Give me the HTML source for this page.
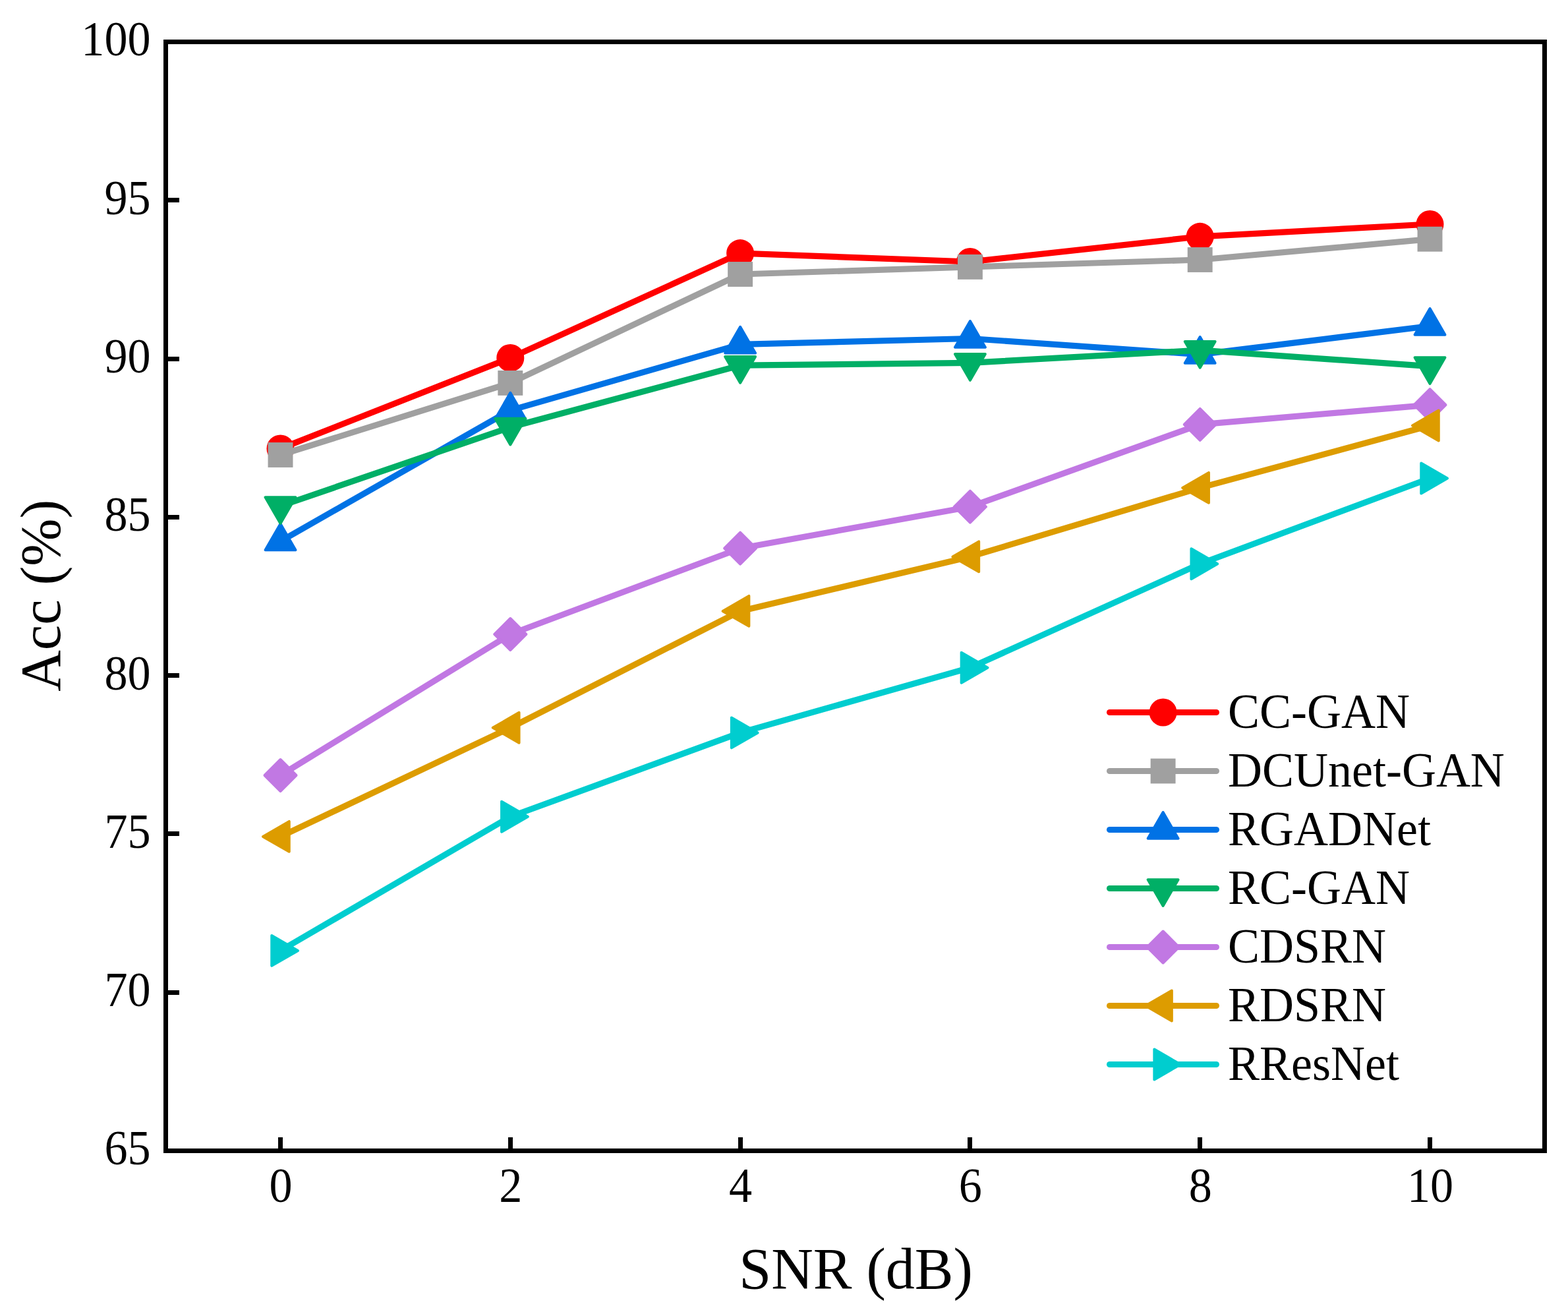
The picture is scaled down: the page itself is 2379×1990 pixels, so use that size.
<!DOCTYPE html>
<html><head><meta charset="utf-8"><title>Acc vs SNR</title>
<style>
html,body{margin:0;padding:0;background:#fff;}
svg{display:block;}
text{font-family:"Liberation Serif","Times New Roman",serif;fill:#000;}
</style></head><body>
<svg width="2379" height="1990" viewBox="0 0 2379 1990">
<rect width="2379" height="1990" fill="#fff"/>
<g><polyline points="425.50,680.40 774.30,542.90 1123.10,384.10 1471.90,397.00 1820.70,358.80 2169.50,340.00" fill="none" stroke="#ff0000" stroke-width="9.2" stroke-linejoin="round" stroke-linecap="round"/>
<circle cx="425.50" cy="680.40" r="21" fill="#ff0000"/>
<circle cx="774.30" cy="542.90" r="21" fill="#ff0000"/>
<circle cx="1123.10" cy="384.10" r="21" fill="#ff0000"/>
<circle cx="1471.90" cy="397.00" r="21" fill="#ff0000"/>
<circle cx="1820.70" cy="358.80" r="21" fill="#ff0000"/>
<circle cx="2169.50" cy="340.00" r="21" fill="#ff0000"/>
</g>
<g><polyline points="425.50,690.00 774.30,580.90 1123.10,416.00 1471.90,404.90 1820.70,394.00 2169.50,362.70" fill="none" stroke="#a0a0a0" stroke-width="9.2" stroke-linejoin="round" stroke-linecap="round"/>
<rect x="406.55" y="671.05" width="37.90" height="37.90" fill="#a0a0a0"/>
<rect x="755.35" y="561.95" width="37.90" height="37.90" fill="#a0a0a0"/>
<rect x="1104.15" y="397.05" width="37.90" height="37.90" fill="#a0a0a0"/>
<rect x="1452.95" y="385.95" width="37.90" height="37.90" fill="#a0a0a0"/>
<rect x="1801.75" y="375.05" width="37.90" height="37.90" fill="#a0a0a0"/>
<rect x="2150.55" y="343.75" width="37.90" height="37.90" fill="#a0a0a0"/>
</g>
<g><polyline points="425.50,820.90 774.30,622.30 1123.10,522.30 1471.90,513.50 1820.70,537.60 2169.50,494.50" fill="none" stroke="#0072e5" stroke-width="9.2" stroke-linejoin="round" stroke-linecap="round"/>
<polygon points="425.50,794.40 448.45,834.15 402.55,834.15" fill="#0072e5" stroke="#0072e5" stroke-width="4" stroke-linejoin="round"/>
<polygon points="774.30,595.80 797.25,635.55 751.35,635.55" fill="#0072e5" stroke="#0072e5" stroke-width="4" stroke-linejoin="round"/>
<polygon points="1123.10,495.80 1146.05,535.55 1100.15,535.55" fill="#0072e5" stroke="#0072e5" stroke-width="4" stroke-linejoin="round"/>
<polygon points="1471.90,487.00 1494.85,526.75 1448.95,526.75" fill="#0072e5" stroke="#0072e5" stroke-width="4" stroke-linejoin="round"/>
<polygon points="1820.70,511.10 1843.65,550.85 1797.75,550.85" fill="#0072e5" stroke="#0072e5" stroke-width="4" stroke-linejoin="round"/>
<polygon points="2169.50,468.00 2192.45,507.75 2146.55,507.75" fill="#0072e5" stroke="#0072e5" stroke-width="4" stroke-linejoin="round"/>
</g>
<g><polyline points="425.50,767.50 774.30,648.00 1123.10,554.20 1471.90,550.30 1820.70,531.20 2169.50,555.60" fill="none" stroke="#00af66" stroke-width="9.2" stroke-linejoin="round" stroke-linecap="round"/>
<polygon points="425.50,794.00 402.55,754.25 448.45,754.25" fill="#00af66" stroke="#00af66" stroke-width="4" stroke-linejoin="round"/>
<polygon points="774.30,674.50 751.35,634.75 797.25,634.75" fill="#00af66" stroke="#00af66" stroke-width="4" stroke-linejoin="round"/>
<polygon points="1123.10,580.70 1100.15,540.95 1146.05,540.95" fill="#00af66" stroke="#00af66" stroke-width="4" stroke-linejoin="round"/>
<polygon points="1471.90,576.80 1448.95,537.05 1494.85,537.05" fill="#00af66" stroke="#00af66" stroke-width="4" stroke-linejoin="round"/>
<polygon points="1820.70,557.70 1797.75,517.95 1843.65,517.95" fill="#00af66" stroke="#00af66" stroke-width="4" stroke-linejoin="round"/>
<polygon points="2169.50,582.10 2146.55,542.35 2192.45,542.35" fill="#00af66" stroke="#00af66" stroke-width="4" stroke-linejoin="round"/>
</g>
<g><polyline points="425.50,1176.00 774.30,962.00 1123.10,831.70 1471.90,768.70 1820.70,643.80 2169.50,614.20" fill="none" stroke="#c178e3" stroke-width="9.2" stroke-linejoin="round" stroke-linecap="round"/>
<polygon points="425.50,1152.00 449.50,1176.00 425.50,1200.00 401.50,1176.00" fill="#c178e3" stroke="#c178e3" stroke-width="4" stroke-linejoin="round"/>
<polygon points="774.30,938.00 798.30,962.00 774.30,986.00 750.30,962.00" fill="#c178e3" stroke="#c178e3" stroke-width="4" stroke-linejoin="round"/>
<polygon points="1123.10,807.70 1147.10,831.70 1123.10,855.70 1099.10,831.70" fill="#c178e3" stroke="#c178e3" stroke-width="4" stroke-linejoin="round"/>
<polygon points="1471.90,744.70 1495.90,768.70 1471.90,792.70 1447.90,768.70" fill="#c178e3" stroke="#c178e3" stroke-width="4" stroke-linejoin="round"/>
<polygon points="1820.70,619.80 1844.70,643.80 1820.70,667.80 1796.70,643.80" fill="#c178e3" stroke="#c178e3" stroke-width="4" stroke-linejoin="round"/>
<polygon points="2169.50,590.20 2193.50,614.20 2169.50,638.20 2145.50,614.20" fill="#c178e3" stroke="#c178e3" stroke-width="4" stroke-linejoin="round"/>
</g>
<g><polyline points="425.50,1268.90 774.30,1103.80 1123.10,926.90 1471.90,844.40 1820.70,739.90 2169.50,645.50" fill="none" stroke="#dd9c00" stroke-width="9.2" stroke-linejoin="round" stroke-linecap="round"/>
<polygon points="399.00,1268.90 438.75,1245.95 438.75,1291.85" fill="#dd9c00" stroke="#dd9c00" stroke-width="4" stroke-linejoin="round"/>
<polygon points="747.80,1103.80 787.55,1080.85 787.55,1126.75" fill="#dd9c00" stroke="#dd9c00" stroke-width="4" stroke-linejoin="round"/>
<polygon points="1096.60,926.90 1136.35,903.95 1136.35,949.85" fill="#dd9c00" stroke="#dd9c00" stroke-width="4" stroke-linejoin="round"/>
<polygon points="1445.40,844.40 1485.15,821.45 1485.15,867.35" fill="#dd9c00" stroke="#dd9c00" stroke-width="4" stroke-linejoin="round"/>
<polygon points="1794.20,739.90 1833.95,716.95 1833.95,762.85" fill="#dd9c00" stroke="#dd9c00" stroke-width="4" stroke-linejoin="round"/>
<polygon points="2143.00,645.50 2182.75,622.55 2182.75,668.45" fill="#dd9c00" stroke="#dd9c00" stroke-width="4" stroke-linejoin="round"/>
</g>
<g><polyline points="425.50,1441.90 774.30,1238.70 1123.10,1111.40 1471.90,1012.80 1820.70,855.30 2169.50,725.50" fill="none" stroke="#00cdcf" stroke-width="9.2" stroke-linejoin="round" stroke-linecap="round"/>
<polygon points="452.00,1441.90 412.25,1464.85 412.25,1418.95" fill="#00cdcf" stroke="#00cdcf" stroke-width="4" stroke-linejoin="round"/>
<polygon points="800.80,1238.70 761.05,1261.65 761.05,1215.75" fill="#00cdcf" stroke="#00cdcf" stroke-width="4" stroke-linejoin="round"/>
<polygon points="1149.60,1111.40 1109.85,1134.35 1109.85,1088.45" fill="#00cdcf" stroke="#00cdcf" stroke-width="4" stroke-linejoin="round"/>
<polygon points="1498.40,1012.80 1458.65,1035.75 1458.65,989.85" fill="#00cdcf" stroke="#00cdcf" stroke-width="4" stroke-linejoin="round"/>
<polygon points="1847.20,855.30 1807.45,878.25 1807.45,832.35" fill="#00cdcf" stroke="#00cdcf" stroke-width="4" stroke-linejoin="round"/>
<polygon points="2196.00,725.50 2156.25,748.45 2156.25,702.55" fill="#00cdcf" stroke="#00cdcf" stroke-width="4" stroke-linejoin="round"/>
</g>
<rect x="251.5" y="63.5" width="2092" height="1682" fill="none" stroke="#000" stroke-width="7"/>
<text transform="translate(228.6,84.40) scale(0.975,1.04)" font-size="72" text-anchor="end">100</text>
<rect x="251" y="300" width="21" height="7" fill="#000"/>
<text transform="translate(228.6,324.69) scale(0.975,1.04)" font-size="72" text-anchor="end">95</text>
<rect x="251" y="541" width="21" height="7" fill="#000"/>
<text transform="translate(228.6,564.97) scale(0.975,1.04)" font-size="72" text-anchor="end">90</text>
<rect x="251" y="781" width="21" height="7" fill="#000"/>
<text transform="translate(228.6,805.25) scale(0.975,1.04)" font-size="72" text-anchor="end">85</text>
<rect x="251" y="1021" width="21" height="7" fill="#000"/>
<text transform="translate(228.6,1045.54) scale(0.975,1.04)" font-size="72" text-anchor="end">80</text>
<rect x="251" y="1261" width="21" height="7" fill="#000"/>
<text transform="translate(228.6,1285.83) scale(0.975,1.04)" font-size="72" text-anchor="end">75</text>
<rect x="251" y="1502" width="21" height="7" fill="#000"/>
<text transform="translate(228.6,1526.11) scale(0.975,1.04)" font-size="72" text-anchor="end">70</text>
<text transform="translate(228.6,1766.40) scale(0.975,1.04)" font-size="72" text-anchor="end">65</text>
<rect x="422" y="1725" width="7" height="21" fill="#000"/>
<text transform="translate(426.00,1823.3) scale(0.975,1.04)" font-size="72" text-anchor="middle">0</text>
<rect x="771" y="1725" width="7" height="21" fill="#000"/>
<text transform="translate(774.80,1823.3) scale(0.975,1.04)" font-size="72" text-anchor="middle">2</text>
<rect x="1120" y="1725" width="7" height="21" fill="#000"/>
<text transform="translate(1123.60,1823.3) scale(0.975,1.04)" font-size="72" text-anchor="middle">4</text>
<rect x="1468" y="1725" width="7" height="21" fill="#000"/>
<text transform="translate(1472.40,1823.3) scale(0.975,1.04)" font-size="72" text-anchor="middle">6</text>
<rect x="1817" y="1725" width="7" height="21" fill="#000"/>
<text transform="translate(1821.20,1823.3) scale(0.975,1.04)" font-size="72" text-anchor="middle">8</text>
<rect x="2166" y="1725" width="7" height="21" fill="#000"/>
<text transform="translate(2170.00,1823.3) scale(0.975,1.04)" font-size="72" text-anchor="middle">10</text>
<text x="1298.5" y="1954.3" font-size="88" text-anchor="middle">SNR (dB)</text>
<text transform="translate(90.5,903.2) rotate(-90)" x="0" y="0" font-size="86.7" text-anchor="middle">Acc (%)</text>
<g><line x1="1683.6" y1="1080.50" x2="1845.4" y2="1080.50" stroke="#ff0000" stroke-width="9.2" stroke-linecap="round"/>
<circle cx="1764.60" cy="1080.50" r="21" fill="#ff0000"/>
<text transform="translate(1863,1104.00) scale(1,1.025)" font-size="72">CC-GAN</text></g>
<g><line x1="1683.6" y1="1169.50" x2="1845.4" y2="1169.50" stroke="#a0a0a0" stroke-width="9.2" stroke-linecap="round"/>
<rect x="1745.65" y="1150.55" width="37.90" height="37.90" fill="#a0a0a0"/>
<text transform="translate(1863,1193.00) scale(1,1.025)" font-size="72">DCUnet-GAN</text></g>
<g><line x1="1683.6" y1="1258.50" x2="1845.4" y2="1258.50" stroke="#0072e5" stroke-width="9.2" stroke-linecap="round"/>
<polygon points="1764.60,1232.00 1787.55,1271.75 1741.65,1271.75" fill="#0072e5" stroke="#0072e5" stroke-width="4" stroke-linejoin="round"/>
<text transform="translate(1863,1282.00) scale(1,1.025)" font-size="72">RGADNet</text></g>
<g><line x1="1683.6" y1="1347.50" x2="1845.4" y2="1347.50" stroke="#00af66" stroke-width="9.2" stroke-linecap="round"/>
<polygon points="1764.60,1374.00 1741.65,1334.25 1787.55,1334.25" fill="#00af66" stroke="#00af66" stroke-width="4" stroke-linejoin="round"/>
<text transform="translate(1863,1371.00) scale(1,1.025)" font-size="72">RC-GAN</text></g>
<g><line x1="1683.6" y1="1436.50" x2="1845.4" y2="1436.50" stroke="#c178e3" stroke-width="9.2" stroke-linecap="round"/>
<polygon points="1764.60,1412.50 1788.60,1436.50 1764.60,1460.50 1740.60,1436.50" fill="#c178e3" stroke="#c178e3" stroke-width="4" stroke-linejoin="round"/>
<text transform="translate(1863,1460.00) scale(1,1.025)" font-size="72">CDSRN</text></g>
<g><line x1="1683.6" y1="1525.50" x2="1845.4" y2="1525.50" stroke="#dd9c00" stroke-width="9.2" stroke-linecap="round"/>
<polygon points="1738.10,1525.50 1777.85,1502.55 1777.85,1548.45" fill="#dd9c00" stroke="#dd9c00" stroke-width="4" stroke-linejoin="round"/>
<text transform="translate(1863,1549.00) scale(1,1.025)" font-size="72">RDSRN</text></g>
<g><line x1="1683.6" y1="1614.50" x2="1845.4" y2="1614.50" stroke="#00cdcf" stroke-width="9.2" stroke-linecap="round"/>
<polygon points="1791.10,1614.50 1751.35,1637.45 1751.35,1591.55" fill="#00cdcf" stroke="#00cdcf" stroke-width="4" stroke-linejoin="round"/>
<text transform="translate(1863,1638.00) scale(1,1.025)" font-size="72">RResNet</text></g>
</svg>
</body></html>
